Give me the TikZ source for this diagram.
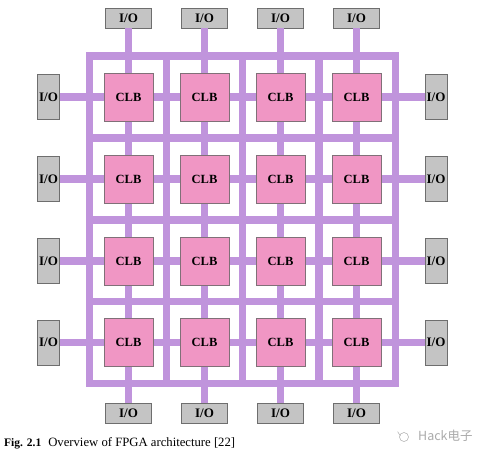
\documentclass[tikz,border=0pt]{standalone}
\usepackage{fontspec}
\setmainfont{Liberation Serif}
\newfontfamily\cjkfont{Noto Sans CJK SC}
\definecolor{route}{RGB}{192,148,220}
\definecolor{clbfill}{RGB}{240,150,196}
\definecolor{clbedge}{RGB}{128,112,120}
\definecolor{iofill}{RGB}{196,196,196}
\definecolor{ioedge}{RGB}{110,110,110}
\definecolor{wm}{RGB}{170,170,170}
\tikzset{
  wire/.style={line width=7.5pt, draw=route},
  clb/.style={draw=clbedge, line width=0.6pt, fill=clbfill, minimum width=49pt, minimum height=48pt, inner sep=0pt, font=\fontsize{12.5}{14}\selectfont\bfseries},
  iobox/.style={draw=ioedge, line width=0.6pt, fill=iofill, inner sep=0pt, font=\fontsize{13}{14}\selectfont\bfseries},
  iohor/.style={iobox, minimum width=46pt, minimum height=20pt},
  iover/.style={iobox, minimum width=22pt, minimum height=45pt},
}
\begin{document}
\begin{tikzpicture}[x=1pt,y=-1pt]
\useasboundingbox (0,0) rectangle (487,459);
% frame grid lines
\foreach \gx in {89.5,166.5,242.5,319,395.5}
  \draw[wire] (\gx,56) -- (\gx,383.5);
\foreach \gy in {56,138,220,301.5,383.5}
  \draw[wire] (89.5,\gy) -- (395.5,\gy);
\draw[wire, line join=miter] (89.5,56) rectangle (395.5,383.5);
% I/O boxes
\foreach \i/\x in {1/128.5,2/204.5,3/280.5,4/356.5} {
  \node[iohor] (iot\i) at (\x,18) {I/O};
  \node[iohor] (iob\i) at (\x,413.5) {I/O};
}
\foreach \i/\y in {1/97,2/179,3/261,4/342.5} {
  \node[iover] (iol\i) at (48.5,\y) {I/O};
  \node[iover] (ior\i) at (436,\y) {I/O};
}
% cross wires through CLBs
\foreach \i in {1,2,3,4} {
  \draw[wire] (iot\i.south) -- (iob\i.north);
  \draw[wire] (iol\i.east) -- (ior\i.west);
}
% CLBs
\foreach \r/\y in {1/97,2/179,3/261,4/342.5}
  \foreach \c/\x in {1/128.5,2/204.5,3/280.5,4/356.5}
    \node[clb] (clb\r\c) at (\x,\y) {CLB};
% caption
\node[anchor=base west, inner sep=0pt] (cap) at (4,446)
  {\fontsize{11.5}{12}\selectfont\textbf{Fig. 2.1}\hspace{7pt}\fontsize{12.7}{14}\selectfont Overview of FPGA architecture [22]};
% watermark
\node[anchor=base west, inner sep=0pt, text=wm, font=\fontsize{12.5}{14}\selectfont\cjkfont] (wmtext) at (418,440.5) {Hack电子};
\node[draw=wm, circle, line width=0.5pt, minimum size=9pt, inner sep=0pt] (wmicon) at (404,437) {};
\draw[wm, line width=0.5pt] (wmicon.north west) ++(-3,-2) -- ++(2.5,4);
\end{tikzpicture}
\end{document}
